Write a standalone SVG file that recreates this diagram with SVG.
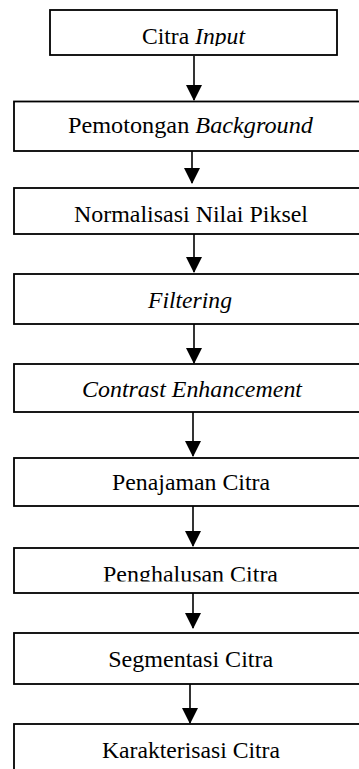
<svg xmlns="http://www.w3.org/2000/svg" width="359" height="769" viewBox="0 0 359 769">
<style>
.box{fill:#fff;stroke:#000;stroke-width:1.8}
.t{font-family:'Liberation Serif','Times New Roman',serif;font-size:23px;fill:#000}
.i{font-style:italic}
.c{fill:none;stroke:#000;stroke-width:1.6}
</style>
<defs>
<marker id="ah" markerUnits="userSpaceOnUse" markerWidth="16" markerHeight="16" refX="15" refY="8" orient="auto" viewBox="0 0 16 16">
<path d="M0,0 L16,8 L0,16 z" fill="#000"/>
</marker>
<clipPath id="clip1"><rect x="0" y="0" width="359" height="46"/></clipPath>
<clipPath id="clip7"><rect x="0" y="540" width="359" height="41.5"/></clipPath>
</defs>
<rect width="359" height="769" fill="#fff"/>
<g id="connectors">
<line class="c" x1="194" y1="56" x2="194" y2="100" marker-end="url(#ah)"/>
<line class="c" x1="192" y1="151" x2="192" y2="183" marker-end="url(#ah)"/>
<line class="c" x1="194" y1="234" x2="194" y2="272" marker-end="url(#ah)"/>
<line class="c" x1="194" y1="324" x2="194" y2="363" marker-end="url(#ah)"/>
<line class="c" x1="193" y1="412" x2="193" y2="456" marker-end="url(#ah)"/>
<line class="c" x1="193" y1="506" x2="193" y2="546" marker-end="url(#ah)"/>
<line class="c" x1="193" y1="589" x2="193" y2="628" marker-end="url(#ah)"/>
<line class="c" x1="190" y1="684" x2="190" y2="723" marker-end="url(#ah)"/>
</g>
<g id="n1"><rect class="box" x="50" y="10" width="287" height="45"/>
<text class="t" x="193.5" y="44" text-anchor="middle" textLength="103" lengthAdjust="spacingAndGlyphs" clip-path="url(#clip1)">Citra <tspan class="i">Input</tspan></text></g>
<g id="n2"><rect class="box" x="14" y="101.5" width="360" height="49.5"/>
<text class="t" x="190.5" y="133" text-anchor="middle" textLength="245" lengthAdjust="spacingAndGlyphs">Pemotongan <tspan class="i">Background</tspan></text></g>
<g id="n3"><rect class="box" x="14" y="188" width="360" height="46"/>
<text class="t" x="191" y="222" text-anchor="middle" textLength="234" lengthAdjust="spacingAndGlyphs">Normalisasi Nilai Piksel</text></g>
<g id="n4"><rect class="box" x="14" y="274" width="360" height="50"/>
<text class="t i" x="190" y="308" text-anchor="middle" textLength="84" lengthAdjust="spacingAndGlyphs">Filtering</text></g>
<g id="n5"><rect class="box" x="14" y="364" width="360" height="48"/>
<text class="t i" x="192" y="397" text-anchor="middle" textLength="220" lengthAdjust="spacingAndGlyphs">Contrast Enhancement</text></g>
<g id="n6"><rect class="box" x="14" y="458" width="360" height="48"/>
<text class="t" x="191" y="490" text-anchor="middle" textLength="158" lengthAdjust="spacingAndGlyphs">Penajaman Citra</text></g>
<g id="n7"><rect class="box" x="14" y="548" width="360" height="45"/>
<text class="t" x="190.5" y="582" text-anchor="middle" textLength="175" lengthAdjust="spacingAndGlyphs" clip-path="url(#clip7)">Penghalusan Citra</text></g>
<g id="n8"><rect class="box" x="14" y="633" width="360" height="51"/>
<text class="t" x="190.7" y="667" text-anchor="middle" textLength="165" lengthAdjust="spacingAndGlyphs">Segmentasi Citra</text></g>
<g id="n9"><rect class="box" x="14" y="724" width="360" height="60"/>
<text class="t" x="191" y="758" text-anchor="middle" textLength="178" lengthAdjust="spacingAndGlyphs">Karakterisasi Citra</text></g>
</svg>
